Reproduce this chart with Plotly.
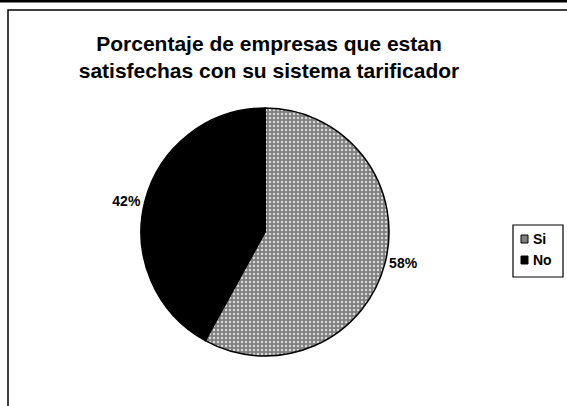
import plotly.graph_objects as go

categorias = ['Si', 'No']
porcentajes = [58, 42]
colores = ['#7f7f7f', '#000000']

W, H = 567, 406

fig = go.Figure()

fig.add_trace(go.Pie(
    labels=categorias,
    values=porcentajes,
    sort=False,
    direction='clockwise',
    rotation=0,
    textposition='outside',
    texttemplate='<b>%{value}%</b>',
    textfont=dict(family='Liberation Sans', size=14, color='black'),
    marker=dict(
        colors=colores,
        line=dict(color='black', width=1.5),
        pattern=dict(shape=['.', ''], fgcolor='#d9d9d9', bgcolor=colores, size=4, solidity=0.3)
    ),
    domain=dict(x=[141 / W, 389 / W], y=[1 - 356 / H, 1 - 108 / H]),
    hoverinfo='label+percent',
    showlegend=False
))

# leyenda dibujada a mano para que quede como la original
shapes = [
    dict(type='rect', xref='paper', yref='paper', x0=8 / W, x1=1.02, y0=-0.02, y1=1 - 10 / H,
         line=dict(color='black', width=1.5)),
    dict(type='line', xref='paper', yref='paper', x0=0, x1=1, y0=1 - 1 / H, y1=1 - 1 / H,
         line=dict(color='black', width=3)),
    dict(type='rect', xref='paper', yref='paper', x0=513 / W, x1=563 / W, y0=1 - 277 / H, y1=1 - 225 / H,
         line=dict(color='black', width=1.2), fillcolor='white'),
]
annotations = []
for i, (cat, col) in enumerate(zip(categorias, colores)):
    yc = 239 + i * 21
    shapes.append(dict(type='rect', xref='paper', yref='paper',
                       x0=521 / W, x1=528 / W, y0=1 - (yc + 4) / H, y1=1 - (yc - 4) / H,
                       line=dict(color='black', width=1), fillcolor=col))
    annotations.append(dict(text=f'<b>{cat}</b>', xref='paper', yref='paper', x=531 / W, y=1 - yc / H,
                            xanchor='left', yanchor='middle', showarrow=False,
                            font=dict(family='Liberation Sans', size=14, color='black')))

fig.update_layout(
    width=W,
    height=H,
    margin=dict(l=0, r=0, t=0, b=0, autoexpand=False),
    paper_bgcolor='white',
    plot_bgcolor='white',
    title=dict(
        text='<b>Porcentaje de empresas que estan<br>satisfechas con su sistema tarificador</b>',
        x=269 / W,
        xanchor='center',
        y=1 - 51 / H,
        yanchor='top',
        yref='container',
        font=dict(family='Liberation Sans', size=21, color='black')
    ),
    shapes=shapes,
    annotations=annotations
)

fig.write_html("out.html", config={'displayModeBar': False},
               post_script="document.body.style.margin='0';")
